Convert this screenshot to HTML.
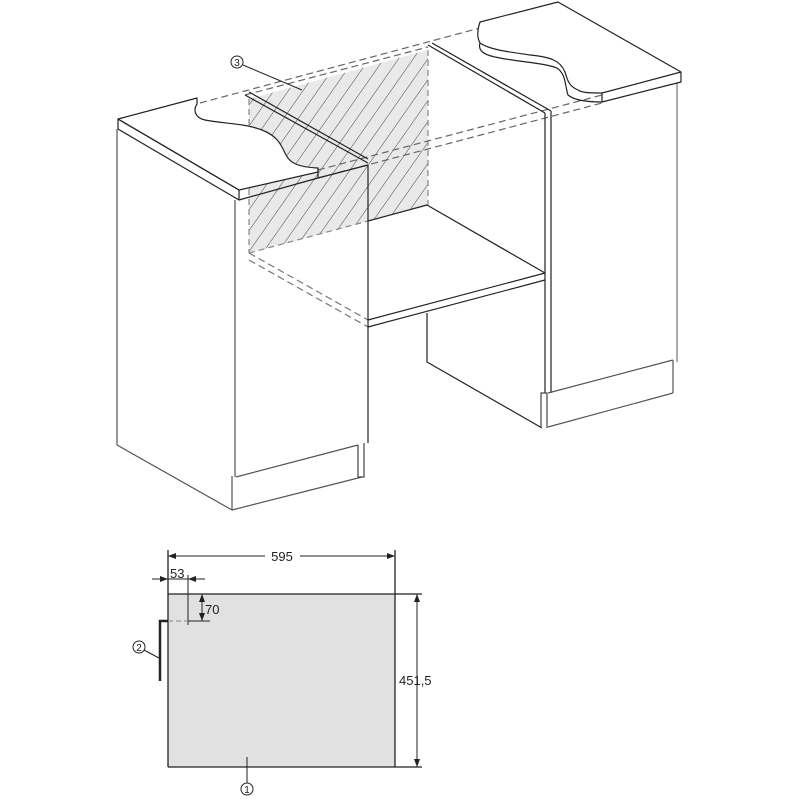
<!DOCTYPE html>
<html><head><meta charset="utf-8"><style>
html,body{margin:0;padding:0;background:#fff}
svg{display:block}
text{font-family:"Liberation Sans",sans-serif;fill:#222}
</style></head><body>
<svg width="800" height="800" viewBox="0 0 800 800" xmlns="http://www.w3.org/2000/svg">
<defs>
<pattern id="h" patternUnits="userSpaceOnUse" width="12" height="12" patternTransform="rotate(35)">
<rect width="12" height="12" fill="#e8e9e8"/>
<line x1="0" y1="0" x2="0" y2="12" stroke="#333" stroke-width="0.9"/>
</pattern>
</defs>
<g fill="none" stroke="#222" stroke-width="1.2" stroke-linejoin="round">
<polygon points="249,99 428,50 428,205 249,253" fill="url(#h)" stroke="none"/>
<line x1="249" y1="99" x2="249" y2="253" stroke="#888" stroke-dasharray="6,4"/>
<line x1="428" y1="50" x2="428" y2="205" stroke="#888" stroke-dasharray="6,4"/>
<line x1="249" y1="253" x2="368" y2="221" stroke="#888" stroke-dasharray="6,4"/>
<line x1="200" y1="103" x2="480" y2="28" stroke="#666" stroke-dasharray="7,4"/>
<line x1="245" y1="95" x2="428" y2="47" stroke="#666" stroke-dasharray="7,4"/>
<line x1="318" y1="170" x2="602" y2="95" stroke="#666" stroke-dasharray="7,4"/>
<line x1="318" y1="178" x2="602" y2="103" stroke="#666" stroke-dasharray="7,4"/>
<polygon points="368,221 427,205 545,273 368,320" fill="#fff" stroke="none"/>
<polyline points="368,221 427,205 545,273"/>
<line x1="368" y1="320" x2="545" y2="273"/>
<line x1="368" y1="327" x2="545" y2="280"/>
<line x1="249" y1="253" x2="368" y2="320" stroke="#777" stroke-dasharray="7,4"/>
<line x1="249" y1="260" x2="368" y2="327" stroke="#777" stroke-dasharray="7,4"/>
<polyline points="427,313 427,362 542,428"/>
<line x1="117" y1="129" x2="117" y2="445" stroke="#555"/>
<line x1="117" y1="445" x2="232" y2="510" stroke="#555"/>
<line x1="235" y1="200" x2="235" y2="477" stroke="#555"/>
<line x1="368" y1="165" x2="368" y2="443"/>
<line x1="236" y1="477" x2="358" y2="445" stroke="#555"/>
<line x1="232" y1="476" x2="232" y2="510" stroke="#555"/>
<line x1="232" y1="510" x2="362" y2="477" stroke="#555"/>
<polyline points="358,445 358,477 364,477 364,443" stroke="#444"/>
<line x1="318" y1="178" x2="368" y2="165"/>
<line x1="245" y1="95" x2="368" y2="163"/>
<line x1="249" y1="92" x2="368" y2="159"/>
<path d="M118,119 L197,98 L197,104 C193,110 195,118 205,120 C225,124 243,123 262,130 C280,137 282,148 286,155 C290,163 298,167 318,168 L318,172 L239,190 Z" fill="#fff"/>
<polyline points="118,119 118,129 239,200 239,190 118,119"/>
<line x1="239" y1="200" x2="318" y2="178"/>
<line x1="318" y1="168" x2="318" y2="178"/>
<line x1="428" y1="45" x2="545" y2="113"/>
<line x1="432" y1="43" x2="551" y2="111"/>
<line x1="545" y1="113" x2="545" y2="393"/>
<line x1="551" y1="111" x2="551" y2="393"/>
<line x1="677" y1="83" x2="677" y2="362" stroke="#777"/>
<line x1="548" y1="393" x2="673" y2="360" stroke="#555"/>
<line x1="548" y1="427" x2="673" y2="393" stroke="#555"/>
<line x1="673" y1="360" x2="673" y2="393" stroke="#555"/>
<polyline points="541,428 541,393 547,393 547,428" stroke="#444"/>
<path d="M480,22 L558,2 L681,72 L602,93 C590,93 583,93 578,90 C568,86 567,78 565,72 C560,60 550,57 530,55 C510,52 490,50 480,43 C476,36 478,28 480,22 Z" fill="#fff"/>
<path d="M480,43 C478,50 482,55 500,58 C520,62 545,63 557,68 C566,74 565,86 568,95 C575,101 590,102 602,102"/>
<polyline points="602,93 602,102 681,82 681,72"/>
<circle cx="237" cy="62" r="6" stroke-width="1"/>
<line x1="243" y1="65" x2="302" y2="90" stroke-width="1"/>
</g>
<text x="237" y="66" font-size="10" text-anchor="middle">3</text>

<rect x="168" y="594" width="227" height="173" fill="#e1e1e1"/>
<g stroke="#222" stroke-width="1.3" fill="none">
<line x1="168" y1="594" x2="422" y2="594"/>
<line x1="168" y1="767" x2="422" y2="767"/>
<line x1="168" y1="550" x2="168" y2="767"/>
<line x1="395" y1="550" x2="395" y2="767"/>
<line x1="168" y1="556" x2="265" y2="556" stroke-width="1"/>
<line x1="300" y1="556" x2="395" y2="556" stroke-width="1"/>
<line x1="417" y1="594" x2="417" y2="767" stroke-width="1"/>
<line x1="152" y1="579" x2="205" y2="579" stroke-width="1"/>
<line x1="188" y1="575" x2="188" y2="625" stroke-width="1"/>
<line x1="202" y1="594" x2="202" y2="621" stroke-width="1"/>
<line x1="188" y1="621" x2="210" y2="621" stroke-width="1"/>
<line x1="168" y1="621" x2="188" y2="621" stroke="#999" stroke-dasharray="5,3"/>
<polyline points="168,621 160,621 160,681" stroke-width="2.5"/>
<circle cx="139" cy="647" r="6" stroke-width="1"/>
<line x1="144" y1="650" x2="159" y2="658" stroke-width="1"/>
<line x1="247" y1="757" x2="247" y2="783" stroke-width="1"/>
<circle cx="247" cy="789" r="6" stroke-width="1"/>
</g>
<g fill="#222">
<polygon points="168,556 176,553 176,559"/>
<polygon points="395,556 387,553 387,559"/>
<polygon points="417,594 414,602 420,602"/>
<polygon points="417,767 414,759 420,759"/>
<polygon points="168,579 160,576 160,582"/>
<polygon points="188,579 196,576 196,582"/>
<polygon points="202,594 199,602 205,602"/>
<polygon points="202,621 199,613 205,613"/>
</g>
<text x="282" y="561" font-size="13" text-anchor="middle">595</text>
<text x="170" y="578" font-size="13">53</text>
<text x="205" y="614" font-size="13">70</text>
<text x="399" y="685" font-size="13">451,5</text>
<text x="139" y="651" font-size="10" text-anchor="middle">2</text>
<text x="247" y="793" font-size="10" text-anchor="middle">1</text>
</svg>
</body></html>
